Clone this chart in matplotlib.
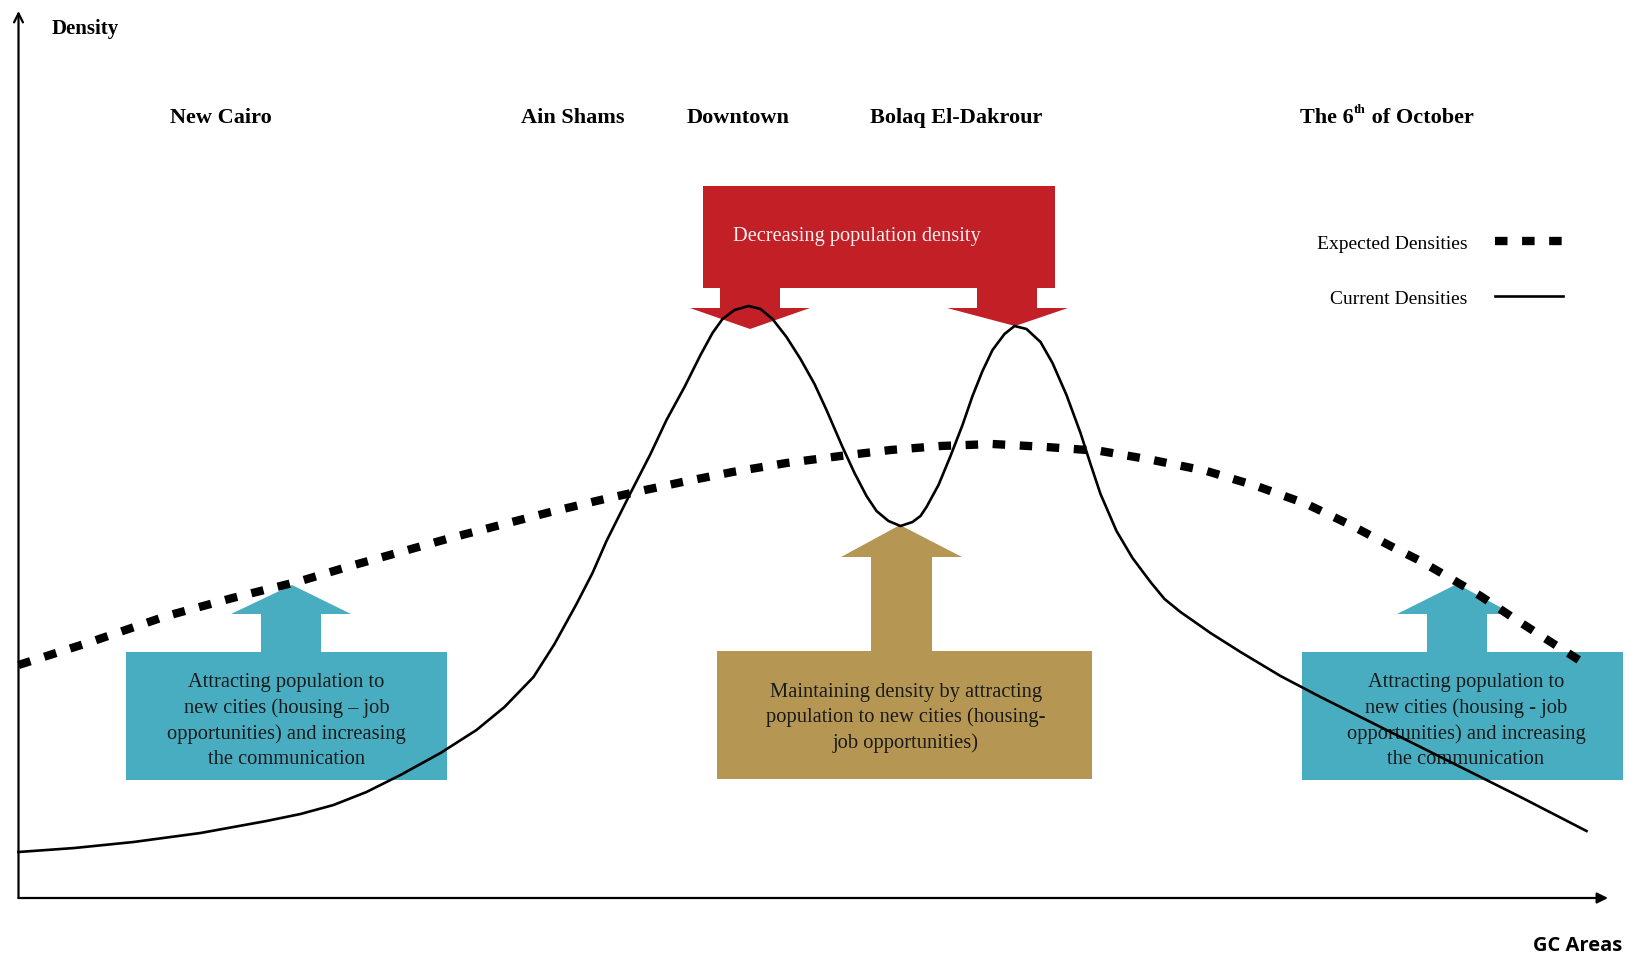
import matplotlib
matplotlib.use('Agg')
import matplotlib.pyplot as plt
from matplotlib.patches import Rectangle, Polygon
from matplotlib.transforms import Affine2D

# ---------------- data (arbitrary units: position along GC areas, density) ----------------
current_x = [0, 56, 115, 182, 248, 282, 315, 348, 382, 422, 458, 486, 515, 536, 558, 574,
             588, 612, 632, 648, 666, 682, 694, 704, 716, 730, 742, 754, 768, 782, 796, 808,
             824, 836, 848, 858, 870, 882, 894, 902, 908, 920, 932, 944, 954, 964, 974, 986,
             996, 1008, 1022, 1034, 1048, 1062, 1072, 1082, 1098, 1114, 1132, 1146, 1162,
             1192, 1222, 1262, 1302, 1366, 1432, 1502, 1568]
current_y = [46, 50, 56, 65, 77, 84, 93, 106, 123, 145, 168, 191, 221, 254, 294, 325,
             357, 405, 444, 478, 511, 543, 565, 579, 588, 592, 589, 579, 561, 539, 514, 488,
             451, 425, 402, 387, 377, 372, 376, 382, 391, 413, 442, 473, 502, 527, 548, 564,
             572, 569, 556, 535, 503, 465, 434, 404, 367, 340, 316, 299, 286,
             265, 246, 222, 201, 169, 136, 101, 67]

expected_x = [0, 72, 148, 214, 282, 332, 382, 432, 482, 532, 582, 622, 664, 714, 768, 822,
              872, 922, 974, 1028, 1082, 1134, 1188, 1238, 1288, 1332, 1372, 1402, 1428,
              1462, 1492, 1526, 1562]
expected_y = [233, 256, 282, 300, 317, 332, 346, 360, 373, 386, 398, 407, 416, 426, 435, 442,
              448, 452, 454, 451, 447, 438, 427, 412, 394, 373, 352, 337, 322,
              302, 282, 260, 237]

series_labels = ["Expected Densities", "Current Densities"]
area_labels = ["New Cairo", "Ain Shams", "Downtown", "Bolaq El-Dakrour"]
october_parts = ["The 6", "th", " of October"]
axis_x_label = "GC Areas"
axis_y_label = "Density"
red_text = "Decreasing population density"
left_text = "Attracting population to\nnew cities (housing \u2013 job\nopportunities) and increasing\nthe communication"
mid_text = "Maintaining density by attracting\npopulation to new cities (housing-\njob opportunities)"
right_text = "Attracting population to\nnew cities (housing - job\nopportunities) and increasing\nthe communication"

# ---------------- layout ----------------
W, H = 1634, 954
plt.rcParams['font.family'] = ['Liberation Serif', 'DejaVu Serif']

fig = plt.figure(figsize=(W / 100, H / 100), dpi=100)
px = Affine2D().scale(1 / W, -1 / H).translate(0, 1) + fig.transFigure

x0, x1, y0, y1 = 18.5, 1608, 899, 12
ax = fig.add_axes([x0 / W, (H - y0) / H, (x1 - x0) / W, (y0 - y1) / H])
ax.set_xlim(0, x1 - x0)
ax.set_ylim(0, y0 - y1)
ax.axis('off')

RED = '#C21F27'
TEAL = '#48ADC0'
GOLD = '#B59653'
TXT = '#1a1a1a'
BOX_FS = 14.8
BOX_LS = 1.42


def add_rect(xa, ya, xb, yb, color):
    ax.add_patch(Rectangle((xa, ya), xb - xa, yb - ya, transform=px, color=color,
                           lw=0, clip_on=False, zorder=1))


def add_poly(pts, color):
    ax.add_patch(Polygon(pts, closed=True, transform=px, color=color, lw=0,
                         clip_on=False, zorder=1))


# red box + down arrows
add_rect(703, 187, 1055, 289, RED)
add_poly([(720, 289), (780, 289), (780, 309), (810, 309), (750, 330), (690, 309), (720, 309)], RED)
add_poly([(977, 289), (1037, 289), (1037, 309), (1068, 309), (1015, 327), (947, 309), (977, 309)], RED)
ax.text(733, 237, red_text, transform=px, ha='left', va='center', color='#F7EEEE',
        fontsize=14.7, zorder=2)

# left teal
add_rect(126, 653, 447, 781, TEAL)
add_poly([(261, 653), (321, 653), (321, 615), (351, 615), (292, 586), (231, 615), (261, 615)], TEAL)
ax.text(286.5, 721, left_text, transform=px, ha='center', va='center', color=TXT,
        fontsize=BOX_FS, linespacing=BOX_LS, zorder=2)

# right teal
add_rect(1302, 653, 1623, 781, TEAL)
add_poly([(1427, 653), (1487, 653), (1487, 615), (1513, 615), (1457, 585), (1397, 615), (1427, 615)], TEAL)
ax.text(1466, 721, right_text, transform=px, ha='center', va='center', color=TXT,
        fontsize=BOX_FS, linespacing=BOX_LS, zorder=2)

# gold
add_rect(717, 652, 1092, 780, GOLD)
add_poly([(871, 652), (932, 652), (932, 558), (962, 558), (900, 526), (841, 558), (871, 558)], GOLD)
ax.text(906, 718, mid_text, transform=px, ha='center', va='center', color=TXT,
        fontsize=BOX_FS, linespacing=BOX_LS, zorder=2)

# curves
l_exp, = ax.plot(expected_x, expected_y, color='black', lw=6.0,
                 linestyle=(0, (1.5, 1.75)), dash_capstyle='butt', clip_on=False,
                 zorder=5, label=series_labels[0])
l_cur, = ax.plot(current_x, current_y, color='black', lw=1.9, clip_on=False,
                 zorder=6, label=series_labels[1], solid_joinstyle='round')

# axes arrows
ax.annotate('', xy=(0, 1), xytext=(0, 0), xycoords='axes fraction',
            arrowprops=dict(arrowstyle='->', lw=1.6, color='black', shrinkA=0,
                            shrinkB=0, mutation_scale=16))
ax.annotate('', xy=(1, 0), xytext=(0, 0), xycoords='axes fraction',
            arrowprops=dict(arrowstyle='-|>', lw=1.6, color='black', shrinkA=0,
                            shrinkB=0, mutation_scale=16))

# area headers
area_x = [221, 573, 738, 956]
for lab, xx in zip(area_labels, area_x):
    ax.text(xx, 123, lab, transform=px, ha='center', va='baseline', fontsize=16,
            fontweight='bold', color='black')

# "The 6th of October" with small superscript
renderer = fig.canvas.get_renderer()
t1 = ax.text(1300, 123, october_parts[0], transform=px, ha='left', va='baseline',
             fontsize=16, fontweight='bold', color='black')
w1 = t1.get_window_extent(renderer).width
t2 = ax.text(1300 + w1 + 0.5, 113, october_parts[1], transform=px, ha='left', va='baseline',
             fontsize=9.5, fontweight='bold', color='black')
w2 = t2.get_window_extent(renderer).width
ax.text(1300 + w1 + w2 + 0.5, 123, october_parts[2], transform=px, ha='left', va='baseline',
        fontsize=16, fontweight='bold', color='black')

ax.text(85, 34, axis_y_label, transform=px, ha='center', va='baseline', fontsize=15,
        fontweight='bold', color='black')
ax.text(1578, 951, axis_x_label, transform=px, ha='center', va='baseline', fontsize=14.5,
        fontweight='bold', color='black', family=['Open Sans', 'DejaVu Sans'])

# legend
ax.legend(handles=[l_exp, l_cur], loc='center right', bbox_to_anchor=(1563, 271.5),
          bbox_transform=px, frameon=False, markerfirst=False, handlelength=3.5,
          handletextpad=1.4, labelspacing=1.95, borderpad=0, borderaxespad=0,
          fontsize=14)

fig.savefig('out.png', dpi=100)
